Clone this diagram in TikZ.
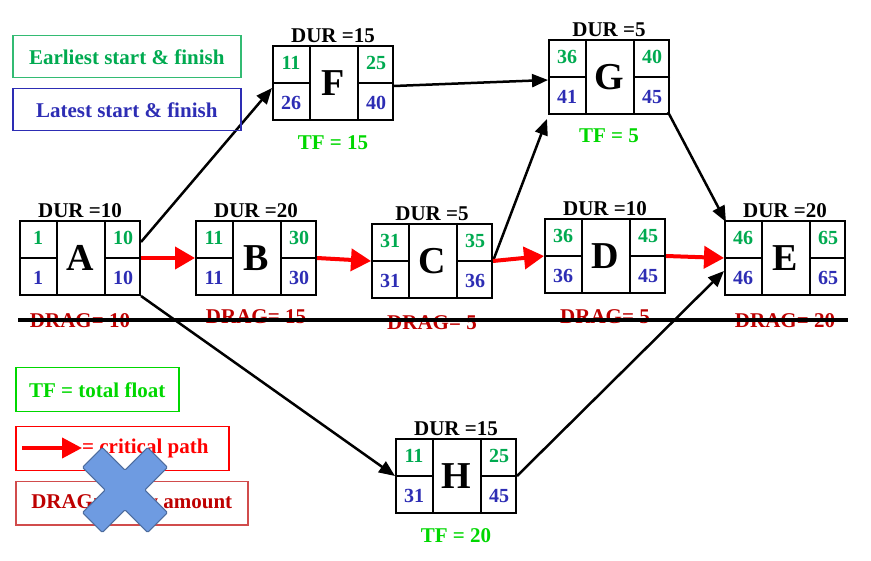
\documentclass[tikz,border=0pt]{standalone}
\usepackage{fontspec}
\setmainfont{Liberation Serif}
\usetikzlibrary{arrows.meta,positioning}
\definecolor{esgreen}{RGB}{0,170,80}
\definecolor{lsblue}{RGB}{45,45,180}
\definecolor{dragred}{RGB}{190,0,0}
\definecolor{tfgreen}{RGB}{0,215,0}
\definecolor{crossblue}{RGB}{110,155,225}
\tikzset{
  act/.style={draw, line width=2pt, minimum width=120pt, minimum height=74pt, inner sep=0pt, font=\fontsize{38}{38}\bfseries\selectfont},
  num/.style={font=\fontsize{20}{20}\bfseries\selectfont, inner sep=0pt},
  dur/.style={font=\fontsize{21}{21}\bfseries\selectfont, inner sep=1pt},
  tf/.style={font=\fontsize{21}{21}\bfseries\selectfont, text=tfgreen, inner sep=0pt},
  drag/.style={font=\fontsize{21}{21}\bfseries\selectfont, text=dragred, inner sep=0pt},
  flow/.style={line width=2.5pt, -{Triangle[length=16pt,width=13pt]}},
  crit/.style={line width=4pt, red, -{Triangle[length=20pt,width=22pt]}},
  legend/.style={draw, line width=1.5pt, anchor=north west, inner sep=0pt, font=\fontsize{21}{21}\bfseries\selectfont}
}
% activity box: name, centre, letter, ES, EF, LS, LF, duration
\newcommand\actbox[8]{%
  \node[act] (#1) at #2 {#3};
  \draw[line width=2pt] ([xshift=38pt]#1.north west) -- ([xshift=38pt]#1.south west)
    ([xshift=-36pt]#1.north east) -- ([xshift=-36pt]#1.south east)
    (#1.west) -- ([xshift=38pt]#1.west)
    (#1.east) -- ([xshift=-36pt]#1.east);
  \node[num, text=esgreen] at ([xshift=19pt,yshift=-18pt]#1.north west) {#4};
  \node[num, text=esgreen] at ([xshift=-18pt,yshift=-18pt]#1.north east) {#5};
  \node[num, text=lsblue] at ([xshift=19pt,yshift=18pt]#1.south west) {#6};
  \node[num, text=lsblue] at ([xshift=-18pt,yshift=18pt]#1.south east) {#7};
  \node[dur, above=1pt of #1.north] (#1dur) {DUR =#8};
}
\begin{document}
\begin{tikzpicture}[x=1pt, y=-1pt]
  \useasboundingbox (0,0) rectangle (871,561);

  % Activities
  \actbox{A}{(80,258)}{A}{1}{10}{1}{10}{10}
  \actbox{B}{(256,258)}{B}{11}{30}{11}{30}{20}
  \actbox{C}{(432,261)}{C}{31}{35}{31}{36}{5}
  \actbox{D}{(605,256)}{D}{36}{45}{36}{45}{10}
  \actbox{E}{(785,258)}{E}{46}{65}{46}{65}{20}
  \actbox{F}{(333,83)}{F}{11}{25}{26}{40}{15}
  \actbox{G}{(609,77)}{G}{36}{40}{41}{45}{5}
  \actbox{H}{(456,476)}{H}{11}{25}{31}{45}{15}

  % total float
  \node[tf, below=14pt of F.south] (Ftf) {TF = 15};
  \node[tf, below=14pt of G.south] (Gtf) {TF = 5};
  \node[tf, below=14pt of H.south] (Htf) {TF = 20};

  % drag
  \node[drag] (Adrag) at (80,321) {DRAG= 10};
  \node[drag] (Bdrag) at (256,317) {DRAG= 15};
  \node[drag] (Cdrag) at (432,323) {DRAG= 5};
  \node[drag] (Ddrag) at (605,317) {DRAG= 5};
  \node[drag] (Edrag) at (785,321) {DRAG= 20};
  \draw[line width=4.5pt] (18,320) -- (848,320);

  % Connectors
  \draw[flow] ([yshift=16pt]A.east) -- ([yshift=-5pt]F.west);
  \draw[flow] (A.south east) -- (H.west);
  \draw[flow] ([yshift=-3pt]F.east) -- ([yshift=-3pt]G.west);
  \draw[flow] (C.east) -- ([xshift=-1pt,yshift=-4pt]G.south west);
  \draw[flow] ([xshift=-2pt,yshift=3pt]G.south east) -- ([xshift=2pt,yshift=-2pt]E.north west);
  \draw[flow] (H.east) -- ([yshift=-13pt]E.west);
  \draw[crit] (A.east) -- (B.west);
  \draw[crit] (B.east) -- (C.west);
  \draw[crit] (C.east) -- (D.west);
  \draw[crit] (D.east) -- (E.west);

  % Legend
  \node[legend, draw=esgreen!80, text=esgreen, minimum width=228pt, minimum height=42pt] (es) at (12,35) {Earliest start \& finish};
  \node[legend, draw=lsblue, text=lsblue, minimum width=228pt, minimum height=42pt] (ls) at (12,88) {Latest start \& finish};
  \node[legend, draw=tfgreen, text=tfgreen, minimum width=163pt, minimum height=44pt] (tfkey) at (15,367) {TF = total float};
  \node[legend, draw=red, minimum width=213pt, minimum height=44pt] (cpkey) at (15,426) {};
  \node[font=\fontsize{21}{21}\bfseries\selectfont, text=red, anchor=west, inner sep=0pt] (cptext) at (82,448) {= critical path};
  \coordinate (cpstart) at (22,448);
  \draw[line width=4pt, red, -{Triangle[length=20pt,width=20pt]}] (cpstart) -- (cptext.west);
  \node[legend, draw=dragred!70, text=dragred, minimum width=232pt, minimum height=43pt] (dragkey) at (15,481) {DRAG= delay amount};

  % cross
  \begin{scope}[shift={(125,490)}, rotate=45]
    \fill[crossblue, draw=crossblue!70!black, line width=1pt, rounded corners=1pt]
      (-14,-46) -- (14,-46) -- (14,-14) -- (46,-14) -- (46,14) -- (14,14) -- (14,46)
      -- (-14,46) -- (-14,14) -- (-46,14) -- (-46,-14) -- (-14,-14) -- cycle;
  \end{scope}
\end{tikzpicture}
\end{document}
